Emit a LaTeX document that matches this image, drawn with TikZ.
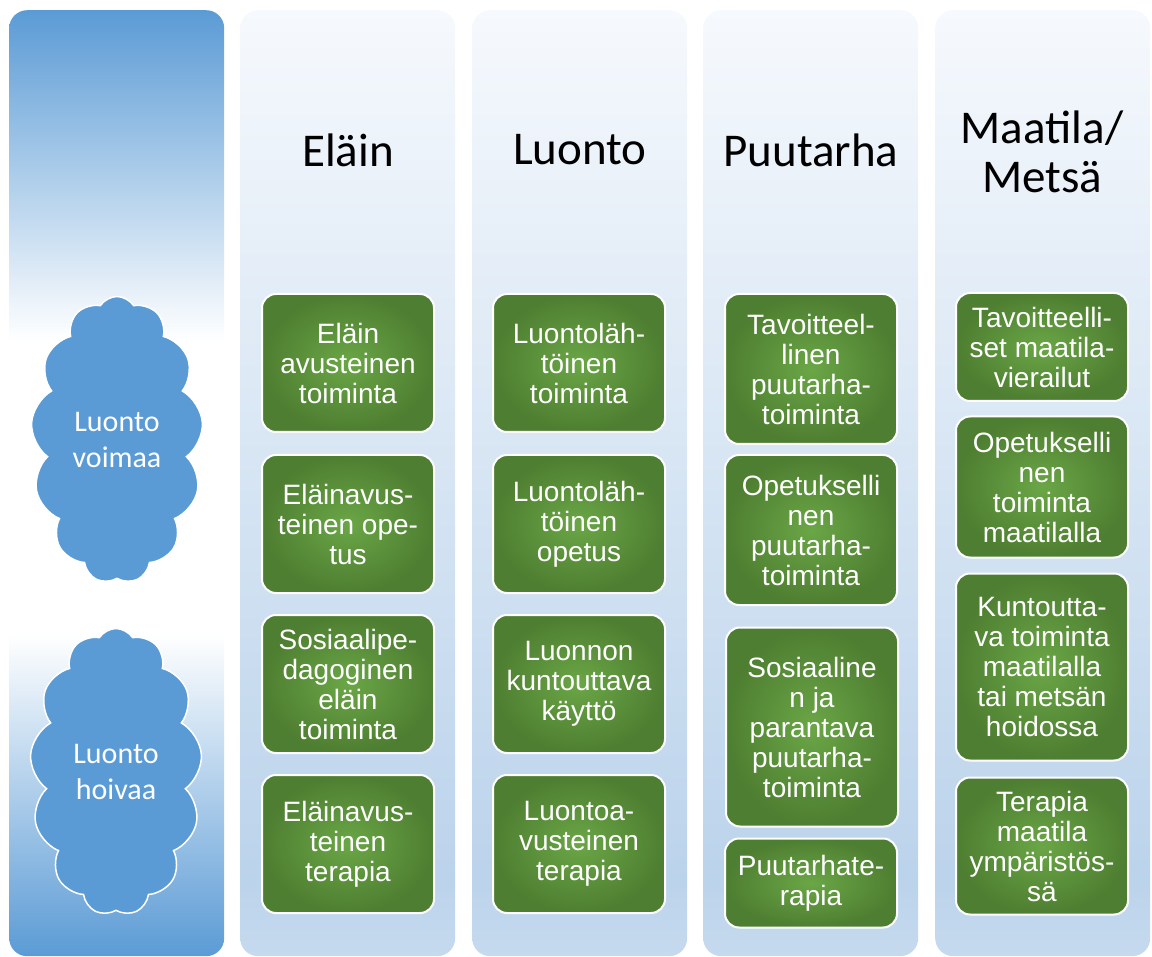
\documentclass[tikz,border=0pt]{standalone}
\usepackage{fontspec}
\usepackage{xcolor}
\usepackage{tikz}
\usetikzlibrary{positioning, shapes.symbols}

\newfontfamily\boxfont{Liberation Sans}
\newfontfamily\headfont{Carlito}

\definecolor{leftblue}{HTML}{5B9BD5}
\definecolor{coltop}{HTML}{F6F9FD}
\definecolor{colmid}{HTML}{BBD3EB}
\definecolor{colbot}{HTML}{C6DAEE}
\definecolor{greenin}{HTML}{6AA646}
\definecolor{greenout}{HTML}{4E7E31}
\definecolor{cloudblue}{HTML}{5B9BD5}

\pgfdeclareverticalshading{leftshade}{100bp}{color(0bp)=(leftblue); color(25bp)=(leftblue); color(42bp)=(white); color(57.5bp)=(white); color(75bp)=(leftblue); color(100bp)=(leftblue)}
\pgfdeclareverticalshading{colshade}{100bp}{color(0bp)=(colbot); color(25bp)=(colbot); color(29bp)=(colmid); color(75bp)=(coltop); color(100bp)=(coltop)}

\begin{document}
\begin{tikzpicture}[
  x=1pt, y=-1pt,
  column/.style={rectangle, rounded corners=18pt, anchor=north west, minimum width=215pt, minimum height=946pt, inner sep=0pt, shading=colshade},
  leftcolumn/.style={column, shading=leftshade},
  heading/.style={font=\headfont\fontsize{47}{49}\selectfont, align=center, text=black},
  greenbox/.style={rectangle, rounded corners=14pt, draw=white, line width=2pt, inner color=greenin, outer color=greenout, minimum width=172pt, inner sep=0pt, align=center, text=white, font=\boxfont\fontsize{28}{30}\selectfont},
  cloudnode/.style={cloud, cloud puffs=13, cloud puff arc=115, cloud ignores aspect, fill=cloudblue, draw=white, line width=1.5pt, minimum width=172pt, minimum height=287pt, inner sep=0pt, align=center, text=white, font=\headfont\fontsize{30}{36}\selectfont}
]
\useasboundingbox (0,0) rectangle (1152,957);

% columns
\node[leftcolumn] (colLeft) at (9,10) {};
\node[column] (colElain) at (240,10) {};
\node[column] (colLuonto) at (472,10) {};
\node[column] (colPuutarha) at (703,10) {};
\node[column] (colMaatila) at (935,10) {};

% headings
\node[heading] (hElain) at (348,150) {Eläin};
\node[heading] (hLuonto) at (580,150) {Luonto};
\node[heading] (hPuutarha) at (811,150) {Puutarha};
\node[heading] (hMaatila) at (1042,152) {Maatila/\\Metsä};

% clouds
\node[cloudnode] (voimaa) at (117,440) {Luonto\\voimaa};
\node[cloudnode] (hoivaa) at (116,772) {Luonto\\hoivaa};

% Elain
\node[greenbox, minimum height=138pt] (elain1) at (348,363) {Eläin\\avusteinen\\toiminta};
\node[greenbox, minimum height=138pt] (elain2) at (348,524) {Eläinavus-\\teinen ope-\\tus};
\node[greenbox, minimum height=138pt] (elain3) at (348,684) {Sosiaalipe-\\dagoginen\\eläin\\toiminta};
\node[greenbox, minimum height=138pt] (elain4) at (348,844) {Eläinavus-\\teinen\\terapia};

% Luonto
\node[greenbox, minimum height=138pt] (luonto1) at (579,363) {Luontoläh-\\töinen\\toiminta};
\node[greenbox, minimum height=138pt] (luonto2) at (579,524) {Luontoläh-\\töinen\\opetus};
\node[greenbox, minimum height=138pt] (luonto3) at (579,684) {Luonnon\\kuntouttava\\käyttö};
\node[greenbox, minimum height=138pt] (luonto4) at (579,844) {Luontoa-\\vusteinen\\terapia};

% Puutarha
\node[greenbox, minimum height=150pt] (puu1) at (811,369) {Tavoitteel-\\linen\\puutarha-\\toiminta};
\node[greenbox, minimum height=150pt] (puu2) at (811,530) {Opetukselli\\nen\\puutarha-\\toiminta};
\node[greenbox, minimum height=199pt] (puu3) at (812,727) {Sosiaaline\\n ja\\parantava\\puutarha-\\toiminta};
\node[greenbox, minimum height=89pt] (puu4) at (811,883) {Puutarhate-\\rapia};

% Maatila
\node[greenbox, minimum height=108pt] (maa1) at (1042,347) {Tavoitteelli-\\set maatila-\\vierailut};
\node[greenbox, minimum height=141pt] (maa2) at (1042,487) {Opetukselli\\nen\\toiminta\\maatilalla};
\node[greenbox, minimum height=187pt] (maa3) at (1042,667) {Kuntoutta-\\va toiminta\\maatilalla\\tai metsän\\hoidossa};
\node[greenbox, minimum height=137pt] (maa4) at (1042,846) {Terapia\\maatila\\ympäristös-\\sä};
\end{tikzpicture}
\end{document}
